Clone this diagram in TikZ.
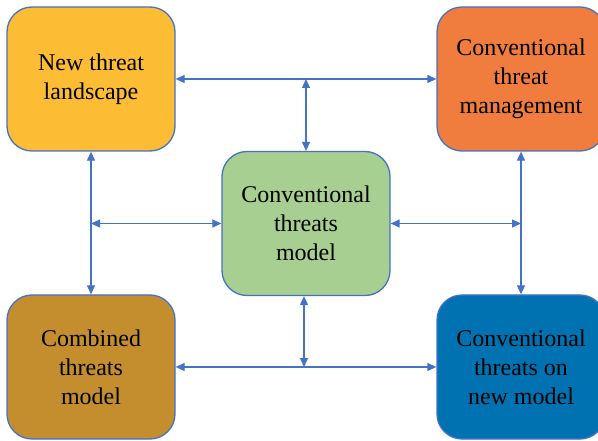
\documentclass[tikz,border=0pt]{standalone}
\usepackage{fontspec}
\setmainfont{Liberation Serif}
\usetikzlibrary{arrows.meta}
\definecolor{edgeblue}{RGB}{68,114,196}
\definecolor{fillyellow}{RGB}{252,188,52}
\definecolor{fillorange}{RGB}{240,125,62}
\definecolor{fillgreen}{RGB}{168,207,146}
\definecolor{fillbrown}{RGB}{196,142,46}
\definecolor{fillblue}{RGB}{0,114,178}
\tikzset{
  block/.style={draw=edgeblue, line width=1.3pt, rounded corners=25pt,
    minimum width=168pt, minimum height=144pt, align=center,
    font=\fontsize{24}{29}\selectfont, text=black, inner sep=2pt},
  link/.style={draw=edgeblue, line width=1.2pt,
    {Triangle[length=9pt,width=8pt]}-{Triangle[length=9pt,width=8pt]}}
}
\begin{document}
\begin{tikzpicture}[x=1pt,y=1pt]
\useasboundingbox (0,0) rectangle (598,440);
\clip (0,0) rectangle (598,440);
\fill[white] (0,0) rectangle (598,440);

% the five blocks
\node[block, fill=fillyellow] (land) at (91,361) {New threat\\landscape};
\node[block, fill=fillorange] (mgmt) at (521,361) {Conventional\\threat\\management};
\node[block, fill=fillgreen]  (model) at (306,216.5) {Conventional\\threats\\model};
\node[block, fill=fillbrown]  (comb) at (91,73) {Combined\\threats\\model};
\node[block, fill=fillblue]   (newm) at (521,73) {Conventional\\threats on\\new model};

% junction points on the connecting lines
\coordinate (topj) at (306,361);
\coordinate (leftj) at (91,216.5);
\coordinate (rightj) at (521,216.5);
\coordinate (botj) at (304,73);

% connectors
\draw[link] (land.east) -- (mgmt.west);
\draw[link] (topj) -- (model.north);
\draw[link] (land.south) -- (comb.north);
\draw[link] (leftj) -- (model.west);
\draw[link] (model.east) -- (rightj);
\draw[link] (mgmt.south) -- (newm.north);
\draw[link] (comb.east) -- (newm.west);
\draw[link] (model.south -| botj) -- (botj);
\end{tikzpicture}
\end{document}
